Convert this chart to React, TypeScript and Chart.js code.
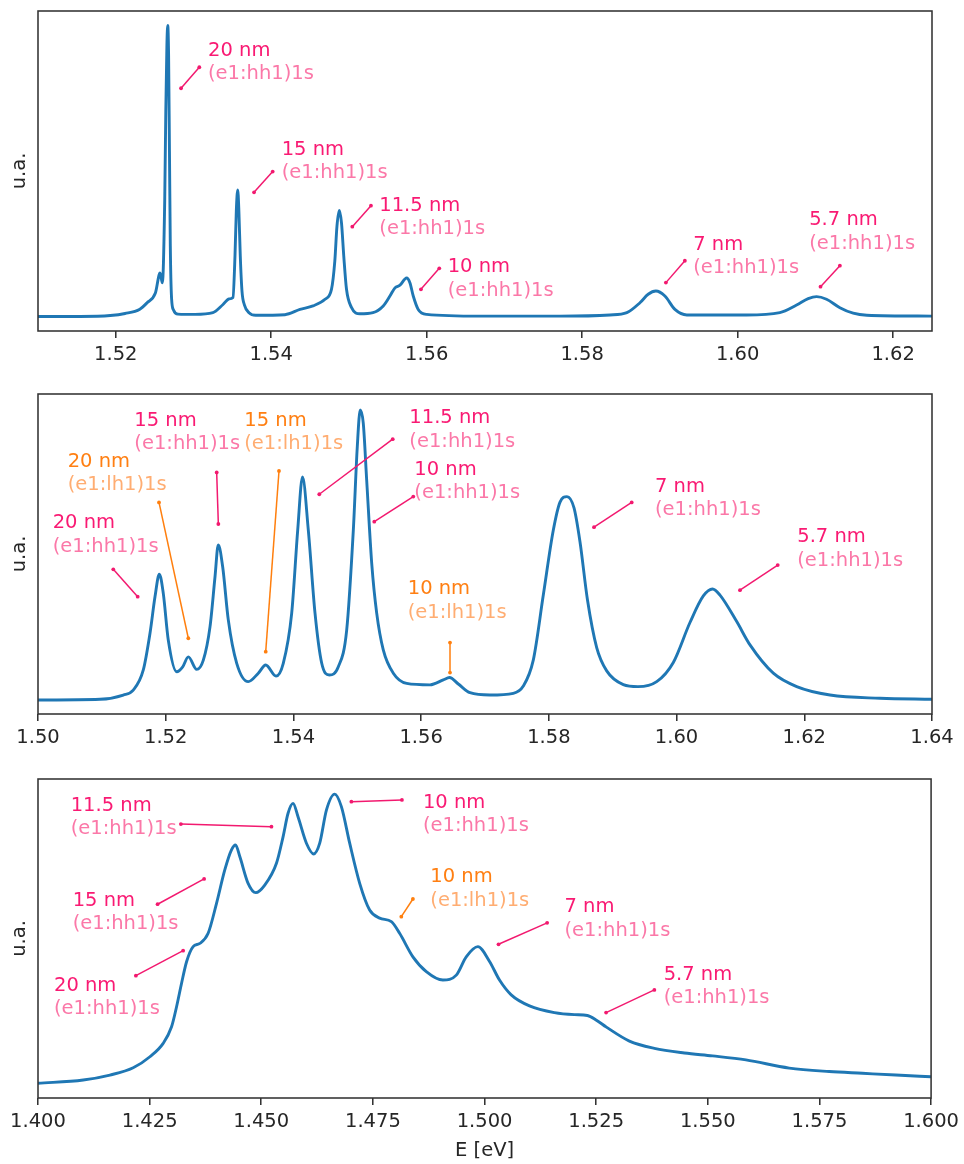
import React, { useEffect, useRef } from 'react';
import { Chart, registerables } from 'chart.js';

Chart.register(...registerables);

// ---------- data: top panel ----------
const E_TOP = [1.5100, 1.5154, 1.5193, 1.5212, 1.5231, 1.5240, 1.5251, 1.5257, 1.5260, 1.5263, 1.52644, 1.52658, 1.52669, 1.5268, 1.52691, 1.52702, 1.52718, 1.52743, 1.5280, 1.5302, 1.5325, 1.5338, 1.53457, 1.53508, 1.53534, 1.53551, 1.53569, 1.53584, 1.53602, 1.53624, 1.53656, 1.53714, 1.5380, 1.54177, 1.5437, 1.54537, 1.54692, 1.54775, 1.54818, 1.54846, 1.54876, 1.54904, 1.54933, 1.54968, 1.55032, 1.55142, 1.55309, 1.55441, 1.55527, 1.55592, 1.55656, 1.55742, 1.55785, 1.55827, 1.55891, 1.5600, 1.56685, 1.57714, 1.58357, 1.58575, 1.58743, 1.58849, 1.58948, 1.59064, 1.59193, 1.59347, 1.60115, 1.60543, 1.60758, 1.60907, 1.61015, 1.61143, 1.61315, 1.61486, 1.61662, 1.625];
const I_TOP = [0.2, 0.2, 0.5, 1.2, 2.7, 4.8, 8.2, 15.1, 11.7, 39.9, 70.8, 93.1, 100, 89.7, 57.0, 24.4, 6.5, 2.4, 1.0, 0.9, 1.5, 4.3, 6.2, 6.7, 21.0, 36.4, 43.6, 36.4, 21.0, 8.9, 4.1, 1.5, 0.6, 0.8, 2.6, 3.8, 6.1, 9.5, 19.2, 31.3, 36.6, 32.3, 21.0, 9.6, 3.3, 1.1, 1.5, 3.8, 7.2, 10.0, 10.9, 13.4, 11.7, 7.2, 2.6, 0.9, 0.3, 0.3, 0.7, 1.5, 4.9, 7.8, 8.9, 7.2, 2.6, 0.7, 0.7, 1.5, 4.1, 6.3, 7.0, 6.1, 3.2, 1.3, 0.6, 0.3];
const X_RANGE_TOP = [1.51, 1.625];
const TICKS_TOP = [1.52, 1.54, 1.56, 1.58, 1.60, 1.62];
const TICK_LABELS_TOP = ['1.52', '1.54', '1.56', '1.58', '1.60', '1.62'];

// ---------- data: middle panel ----------
const E_MID = [1.5000, 1.50971, 1.51336, 1.51492, 1.51649, 1.51754, 1.51832, 1.5190, 1.51962, 1.5204, 1.52172, 1.52266, 1.52354, 1.52485, 1.52589, 1.52694, 1.52772, 1.52823, 1.52892, 1.5298, 1.53112, 1.53293, 1.5345, 1.53566, 1.53727, 1.53841, 1.53973, 1.54067, 1.54142, 1.54233, 1.54338, 1.54443, 1.54562, 1.54703, 1.54834, 1.54938, 1.5500, 1.55046, 1.55094, 1.55147, 1.55226, 1.55304, 1.55407, 1.55564, 1.55774, 1.56139, 1.56347, 1.56444, 1.56582, 1.56765, 1.57078, 1.57443, 1.5760, 1.57756, 1.57913, 1.5807, 1.58175, 1.58284, 1.58394, 1.58488, 1.58605, 1.58749, 1.58906, 1.59166, 1.59396, 1.59689, 1.59949, 1.6021, 1.60419, 1.60563, 1.6068, 1.60942, 1.6115, 1.61515, 1.61881, 1.62403, 1.63186, 1.6400];
const I_MID = [0.0, 0.24, 1.7, 3.4, 10.3, 22.9, 35.4, 43.2, 36.6, 20.6, 9.7, 11.4, 14.8, 10.5, 13.7, 25.2, 42.3, 53.2, 45.7, 27.5, 12.6, 6.3, 9.2, 12.0, 8.2, 12.6, 29.8, 58.3, 76.5, 58.3, 29.8, 12.6, 8.6, 11.4, 24.0, 58.3, 86.9, 99.5, 94.9, 75.5, 46.9, 29.8, 17.2, 9.2, 5.7, 5.2, 6.9, 7.7, 5.5, 2.5, 1.7, 2.3, 4.8, 13.7, 36.0, 58.3, 67.9, 69.8, 65.9, 54.2, 34.3, 18.0, 10.0, 5.3, 4.6, 6.3, 12.9, 26.6, 35.7, 38.1, 36.0, 26.9, 18.9, 9.2, 4.6, 1.7, 0.6, 0.24];
const X_RANGE_MID = [1.50, 1.64];
const TICKS_MID = [1.50, 1.52, 1.54, 1.56, 1.58, 1.60, 1.62, 1.64];
const TICK_LABELS_MID = ['1.50', '1.52', '1.54', '1.56', '1.58', '1.60', '1.62', '1.64'];

// ---------- data: bottom panel ----------
const E_BOT = [1.4000, 1.41013, 1.41611, 1.42132, 1.42506, 1.42803, 1.42991, 1.43103, 1.43215, 1.43327, 1.43474, 1.43624, 1.4381, 1.43998, 1.44183, 1.44333, 1.44423, 1.44519, 1.44705, 1.44877, 1.45078, 1.4534, 1.45488, 1.456, 1.45711, 1.45823, 1.46011, 1.46174, 1.46309, 1.46459, 1.46644, 1.46794, 1.4698, 1.47204, 1.47427, 1.47651, 1.47913, 1.48098, 1.48396, 1.48696, 1.49067, 1.49367, 1.4959, 1.4985, 1.50112, 1.50335, 1.50597, 1.51007, 1.51566, 1.52013, 1.52304, 1.52505, 1.52729, 1.53244, 1.53803, 1.54474, 1.55107, 1.55854, 1.56823, 1.57718, 1.58463, 1.5921, 1.6000];
const I_BOT = [0.26, 1.4, 3.1, 5.6, 9.4, 14.0, 19.7, 26.6, 34.7, 42.1, 47.3, 48.4, 51.9, 62.2, 73.7, 80.6, 82.3, 78.3, 69.1, 65.9, 68.5, 76.0, 85.1, 93.2, 96.6, 92.0, 82.9, 79.2, 82.9, 94.3, 99.8, 95.5, 82.9, 69.1, 59.9, 57.1, 55.9, 51.9, 43.8, 38.7, 35.8, 37.5, 43.8, 47.3, 42.2, 35.8, 30.7, 26.9, 24.6, 23.9, 23.6, 22.0, 19.6, 14.8, 12.3, 10.7, 9.7, 8.3, 5.5, 4.3, 3.7, 3.1, 2.5];
const X_RANGE_BOT = [1.40, 1.60];
const TICKS_BOT = [1.400, 1.425, 1.450, 1.475, 1.500, 1.525, 1.550, 1.575, 1.600];
const TICK_LABELS_BOT = ['1.400', '1.425', '1.450', '1.475', '1.500', '1.525', '1.550', '1.575', '1.600'];

const Y_RANGE = [-4.8, 105];

// ---------- annotations (data coordinates) ----------
type Ann = { nm: string; sub: string; kind: 'hh' | 'lh'; tx: number; ty: number; ax: number; ay: number; bx: number; by: number };

const ANN_TOP: Ann[] = [
  { nm: '20 nm', sub: '(e1:hh1)1s', kind: 'hh', tx: 1.53187, ty: 89.6, ax: 1.53075, ay: 85.7, bx: 1.5284, by: 78.5 },
  { nm: '15 nm', sub: '(e1:hh1)1s', kind: 'hh', tx: 1.54135, ty: 55.7, ax: 1.54019, ay: 49.9, bx: 1.53779, by: 42.8 },
  { nm: '11.5 nm', sub: '(e1:hh1)1s', kind: 'hh', tx: 1.5539, ty: 36.4, ax: 1.55283, ay: 38.2, bx: 1.55043, by: 31.0 },
  { nm: '10 nm', sub: '(e1:hh1)1s', kind: 'hh', tx: 1.5627, ty: 15.3, ax: 1.56162, ay: 16.7, bx: 1.55926, by: 9.5 },
  { nm: '7 nm', sub: '(e1:hh1)1s', kind: 'hh', tx: 1.59428, ty: 23.0, ax: 1.59321, ay: 19.3, bx: 1.59077, by: 11.8 },
  { nm: '5.7 nm', sub: '(e1:hh1)1s', kind: 'hh', tx: 1.6092, ty: 31.5, ax: 1.61315, ay: 17.6, bx: 1.61066, by: 10.4 },
];

const ANN_MID: Ann[] = [
  { nm: '20 nm', sub: '(e1:hh1)1s', kind: 'hh', tx: 1.5023, ty: 58.9, ax: 1.51179, ay: 44.85, bx: 1.51561, by: 35.45 },
  { nm: '20 nm', sub: '(e1:lh1)1s', kind: 'lh', tx: 1.50465, ty: 80.0, ax: 1.51895, ay: 67.8, bx: 1.52354, by: 21.2 },
  { nm: '15 nm', sub: '(e1:hh1)1s', kind: 'hh', tx: 1.51508, ty: 94.1, ax: 1.52798, ay: 78.1, bx: 1.52824, by: 60.4 },
  { nm: '15 nm', sub: '(e1:lh1)1s', kind: 'lh', tx: 1.5323, ty: 94.1, ax: 1.53774, ay: 78.6, bx: 1.53566, by: 16.6 },
  { nm: '11.5 nm', sub: '(e1:hh1)1s', kind: 'hh', tx: 1.55815, ty: 94.9, ax: 1.55555, ay: 89.5, bx: 1.54405, by: 70.6 },
  { nm: '10 nm', sub: '(e1:hh1)1s', kind: 'hh', tx: 1.55893, ty: 77.2, ax: 1.55877, ay: 69.8, bx: 1.55266, by: 61.2 },
  { nm: '10 nm', sub: '(e1:lh1)1s', kind: 'lh', tx: 1.5579, ty: 36.3, ax: 1.56452, ay: 19.7, bx: 1.56452, by: 9.4 },
  { nm: '7 nm', sub: '(e1:hh1)1s', kind: 'hh', tx: 1.59662, ty: 71.4, ax: 1.59297, ay: 67.8, bx: 1.58707, by: 59.3 },
  { nm: '5.7 nm', sub: '(e1:hh1)1s', kind: 'hh', tx: 1.6189, ty: 54.1, ax: 1.61584, ay: 46.3, bx: 1.60993, by: 37.7 },
];

const ANN_BOT: Ann[] = [
  { nm: '11.5 nm', sub: '(e1:hh1)1s', kind: 'hh', tx: 1.40732, ty: 94.1, ax: 1.4320, ay: 89.5, bx: 1.45228, by: 88.6 },
  { nm: '15 nm', sub: '(e1:hh1)1s', kind: 'hh', tx: 1.40776, ty: 61.4, ax: 1.42678, ay: 61.9, bx: 1.4372, by: 70.6 },
  { nm: '20 nm', sub: '(e1:hh1)1s', kind: 'hh', tx: 1.40358, ty: 32.1, ax: 1.42192, ay: 37.3, bx: 1.4325, by: 45.9 },
  { nm: '10 nm', sub: '(e1:hh1)1s', kind: 'hh', tx: 1.4862, ty: 95.0, ax: 1.4815, ay: 97.8, bx: 1.47018, by: 97.2 },
  { nm: '10 nm', sub: '(e1:lh1)1s', kind: 'lh', tx: 1.48785, ty: 69.4, ax: 1.48396, ay: 63.7, bx: 1.48136, by: 57.6 },
  { nm: '7 nm', sub: '(e1:hh1)1s', kind: 'hh', tx: 1.5179, ty: 59.1, ax: 1.51402, ay: 55.5, bx: 1.50313, by: 48.1 },
  { nm: '5.7 nm', sub: '(e1:hh1)1s', kind: 'hh', tx: 1.54011, ty: 35.8, ax: 1.53803, ay: 32.4, bx: 1.52722, by: 24.6 },
];

// ---------- styles ----------
const FONT = '"DejaVu Sans", Verdana, sans-serif';
const FS = 19.5;
const LINE = '#1f77b4';
const SPINE = '#333333';
const TEXT = '#262626';
const COLORS = {
  hh: { main: '#f91a73', sub: '#fb78a8', arrow: '#f2196f' },
  lh: { main: '#ff7f12', sub: '#ffad72', arrow: '#ff7f0e' },
};

type Panel = {
  E: number[]; I: number[]; xr: number[]; ticks: number[]; labels: string[]; anns: Ann[];
  top: number; height: number; padTop: number; plotH: number; xTitle: string;
};

const PANELS: Panel[] = [
  { E: E_TOP, I: I_TOP, xr: X_RANGE_TOP, ticks: TICKS_TOP, labels: TICK_LABELS_TOP, anns: ANN_TOP, top: 0, height: 370, padTop: 11, plotH: 320, xTitle: '' },
  { E: E_MID, I: I_MID, xr: X_RANGE_MID, ticks: TICKS_MID, labels: TICK_LABELS_MID, anns: ANN_MID, top: 380, height: 380, padTop: 14, plotH: 320, xTitle: '' },
  { E: E_BOT, I: I_BOT, xr: X_RANGE_BOT, ticks: TICKS_BOT, labels: TICK_LABELS_BOT, anns: ANN_BOT, top: 765, height: 399, padTop: 14, plotH: 319, xTitle: 'E [eV]' },
];

function overlayPlugin(anns: Ann[]) {
  return {
    id: 'overlay',
    afterDraw(chart: any) {
      const { ctx, chartArea: a, scales } = chart;
      const xs = scales.x;
      const ys = scales.y;
      ctx.save();
      // frame (all four spines)
      ctx.strokeStyle = SPINE;
      ctx.lineWidth = 1.55;
      ctx.strokeRect(a.left, a.top, a.right - a.left, a.bottom - a.top);
      // annotations
      ctx.font = `${FS}px ${FONT}`;
      ctx.textAlign = 'left';
      ctx.textBaseline = 'alphabetic';
      for (const n of anns) {
        const c = COLORS[n.kind];
        const x1 = xs.getPixelForValue(n.ax);
        const y1 = ys.getPixelForValue(n.ay);
        const x2 = xs.getPixelForValue(n.bx);
        const y2 = ys.getPixelForValue(n.by);
        ctx.strokeStyle = c.arrow;
        ctx.fillStyle = c.arrow;
        ctx.lineWidth = 1.5;
        ctx.beginPath();
        ctx.moveTo(x1, y1);
        ctx.lineTo(x2, y2);
        ctx.stroke();
        for (const [px, py] of [[x1, y1], [x2, y2]]) {
          ctx.beginPath();
          ctx.arc(px, py, 1.9, 0, Math.PI * 2);
          ctx.fill();
        }
        const tx = xs.getPixelForValue(n.tx);
        const ty = ys.getPixelForValue(n.ty);
        ctx.fillStyle = c.main;
        ctx.fillText(n.nm, tx, ty);
        ctx.fillStyle = c.sub;
        ctx.fillText(n.sub, tx, ty + 23.3);
      }
      ctx.restore();
    },
  };
}

function makeChart(canvas: HTMLCanvasElement, p: Panel) {
  const xHeight = p.height - p.padTop - p.plotH;
  return new Chart(canvas, {
    type: 'line',
    data: {
      datasets: [
        {
          data: p.E.map((x, i) => ({ x, y: p.I[i] })),
          borderColor: LINE,
          borderWidth: 2.9,
          pointRadius: 0,
          fill: false,
          cubicInterpolationMode: 'monotone',
        } as any,
      ],
    },
    options: {
      responsive: false,
      animation: false,
      devicePixelRatio: 1,
      events: [],
      layout: { padding: { left: 0, right: 32, top: p.padTop, bottom: 0 } },
      plugins: { legend: { display: false }, tooltip: { enabled: false }, title: { display: false } },
      scales: {
        x: {
          type: 'linear',
          min: p.xr[0],
          max: p.xr[1],
          afterBuildTicks: (s: any) => {
            s.ticks = p.ticks.map((v) => ({ value: v }));
          },
          afterFit: (s: any) => {
            s.height = xHeight;
          },
          ticks: {
            callback: (v: any) => {
              const k = p.ticks.findIndex((t) => Math.abs(t - Number(v)) < 1e-9);
              return k >= 0 ? p.labels[k] : '';
            },
            autoSkip: false,
            maxRotation: 0,
            minRotation: 0,
            padding: 5,
            color: TEXT,
            font: { family: FONT, size: FS },
          },
          grid: { display: true, drawOnChartArea: false, drawTicks: true, tickLength: 7, color: SPINE, lineWidth: 1.55 },
          border: { display: false },
          title: {
            display: !!p.xTitle,
            text: p.xTitle,
            color: TEXT,
            font: { family: FONT, size: FS },
            padding: { top: 0, bottom: 1.4 },
          },
        },
        y: {
          type: 'linear',
          min: Y_RANGE[0],
          max: Y_RANGE[1],
          afterFit: (s: any) => {
            s.width = 38;
          },
          ticks: { display: false },
          grid: { display: false },
          border: { display: false },
          title: {
            display: true,
            text: 'u.a.',
            color: TEXT,
            font: { family: FONT, size: FS },
            padding: { top: 8.4, bottom: 0 },
          },
        },
      },
    },
    plugins: [overlayPlugin(p.anns)],
  } as any);
}

export default function App() {
  const r0 = useRef<HTMLCanvasElement>(null);
  const r1 = useRef<HTMLCanvasElement>(null);
  const r2 = useRef<HTMLCanvasElement>(null);
  const refs = [r0, r1, r2];

  useEffect(() => {
    const charts = PANELS.map((p, i) => makeChart(refs[i].current as HTMLCanvasElement, p));
    return () => charts.forEach((c) => c.destroy());
  }, []);

  return (
    <div style={{ position: 'absolute', left: 0, top: 0, width: 964, height: 1164, background: '#ffffff', overflow: 'hidden' }}>
      {PANELS.map((p, i) => (
        <canvas
          key={i}
          ref={refs[i]}
          width={964}
          height={p.height}
          style={{ position: 'absolute', left: 0, top: p.top, width: 964, height: p.height }}
        />
      ))}
    </div>
  );
}
